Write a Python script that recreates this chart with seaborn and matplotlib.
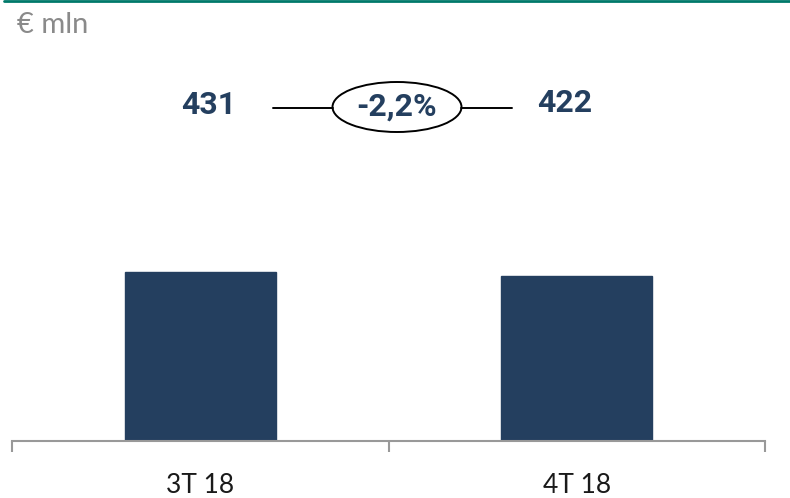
import matplotlib
matplotlib.use("Agg")
import matplotlib.pyplot as plt
from matplotlib.patches import Ellipse
from matplotlib.lines import Line2D
import seaborn as sns
import pandas as pd

# Quarterly figures, € mln
periods = ["3T 18", "4T 18"]
values = [431, 422]
change_label = "-2,2%"
unit_label = "€ mln"

navy = "#243F5F"
label_blue = "#243F5F"
axis_grey = "#999999"
teal = "#00796A"

sns.set_theme(style="white")
plt.rcParams["font.family"] = ["Roboto", "DejaVu Sans"]

W, H = 790, 498
fig = plt.figure(figsize=(W / 100, H / 100), dpi=100)

# plot area: x from 12 px to 765 px, baseline at 441 px
ax = fig.add_axes([12 / W, (H - 441) / H, (765 - 12) / W, (441 - 50) / H])

df = pd.DataFrame({"period": periods, "value": values})
sns.barplot(data=df, x="period", y="value", color=navy, width=0.4,
            saturation=1, ax=ax, edgecolor=navy)

ax.set_xlim(-0.5, 1.5)
ax.set_ylim(0, 997)
for s in ["top", "left", "right"]:
    ax.spines[s].set_visible(False)
ax.spines["bottom"].set_color(axis_grey)
ax.spines["bottom"].set_linewidth(1.5)
ax.set_yticks([])
ax.set_xlabel("")
ax.set_ylabel("")

# category labels centred, boundary ticks at category edges
ax.set_xticks([0, 1])
ax.set_xticklabels(periods, fontsize=19, color="#1a1a1a", family=["Lato", "DejaVu Sans"])
ax.tick_params(axis="x", which="major", length=0, pad=23)
ax.set_xticks([-0.5, 0.5, 1.5], minor=True)
ax.tick_params(axis="x", which="minor", length=8, width=1.5, color=axis_grey,
               direction="out", bottom=True)

# headline values above the chart
fig.text(209 / W, 1 - 105 / H, f"{values[0]}", ha="center", va="center",
         fontsize=23, fontweight="bold", color=label_blue)
fig.text(565 / W, 1 - 103 / H, f"{values[1]}", ha="center", va="center",
         fontsize=23, fontweight="bold", color=label_blue)

# change badge with connectors
cx, cy = 397, 107
fig.patches.append(Ellipse((cx / W, 1 - cy / H), 129 / W, 50 / H,
                           transform=fig.transFigure, fill=False,
                           edgecolor="black", linewidth=1.4))
fig.lines.append(Line2D([273 / W, 333 / W], [1 - 108 / H, 1 - 108 / H],
                        transform=fig.transFigure, color="black", linewidth=1.4))
fig.lines.append(Line2D([461 / W, 512 / W], [1 - 108 / H, 1 - 108 / H],
                        transform=fig.transFigure, color="black", linewidth=1.4))
fig.text(cx / W, 1 - cy / H, change_label, ha="center", va="center",
         fontsize=23, fontweight="bold", color=label_blue)

# unit label and top rule
fig.text(17 / W, 1 - 25 / H, unit_label, ha="left", va="center",
         fontsize=21, color="#8a8a8a", family=["Lato", "DejaVu Sans"])
fig.lines.append(Line2D([4 / W, 1], [1 - 1 / H, 1 - 1 / H],
                        transform=fig.transFigure, color=teal, linewidth=2))

fig.savefig("out.png", dpi=100)
